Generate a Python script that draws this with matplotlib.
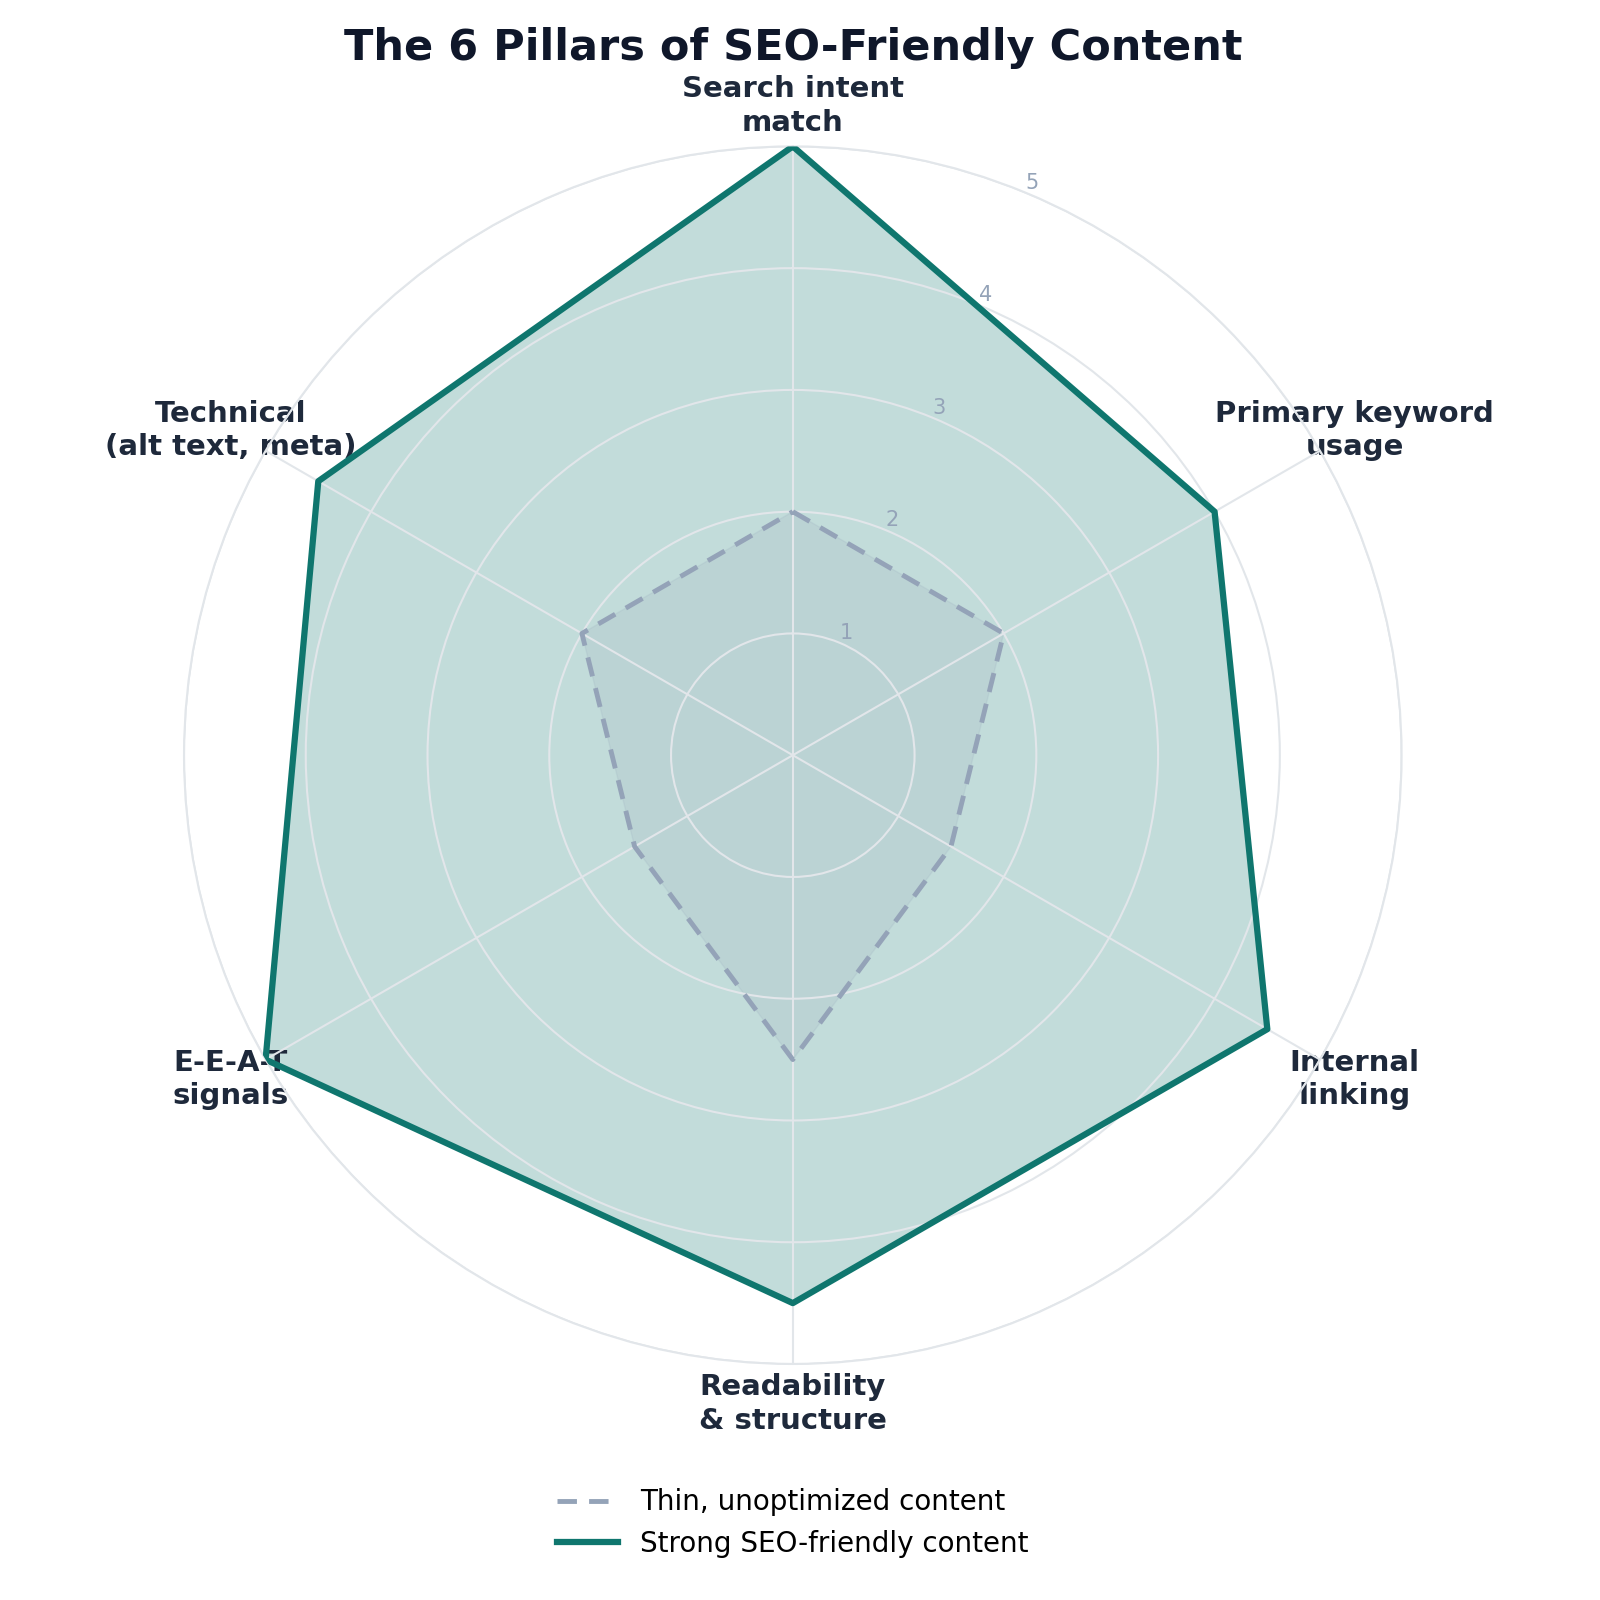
import numpy as np
import matplotlib
matplotlib.use("Agg")
import matplotlib.pyplot as plt

categories = ["Search intent\nmatch", "Primary keyword\nusage", "Internal\nlinking",
              "Readability\n& structure", "E-E-A-T\nsignals", "Technical\n(alt text, meta)"]
thin_values = [2, 2, 1.5, 2.5, 1.5, 2]
strong_values = [5, 4, 4.5, 4.5, 5, 4.5]
r_ticks = [1, 2, 3, 4, 5]
series_labels = ["Thin, unoptimized content", "Strong SEO-friendly content"]

thin_color = "#94a3b8"
strong_color = "#0f766e"
grid_color = "#e2e6ea"
text_color = "#1e293b"

fig = plt.figure(figsize=(16, 16), dpi=100)
ax = fig.add_axes([0.115, 0.1475, 0.761, 0.761], projection="polar")
ax.set_theta_offset(np.pi / 2)
ax.set_theta_direction(-1)

n = len(categories)
angles = np.linspace(0, 2 * np.pi, n, endpoint=False)
ang_closed = np.concatenate([angles, angles[:1]])

thin_closed = np.array(thin_values + thin_values[:1])
strong_closed = np.array(strong_values + strong_values[:1])

ax.fill(ang_closed, strong_closed, color=strong_color, alpha=0.25, zorder=1)
ax.fill(ang_closed, thin_closed, color=thin_color, alpha=0.15, zorder=1)
l1, = ax.plot(ang_closed, thin_closed, color=thin_color, lw=3.5, ls=(0, (4, 2.5)), zorder=3)
l2, = ax.plot(ang_closed, strong_closed, color=strong_color, lw=4.5, zorder=3)

ax.set_ylim(0, 5)
ax.set_yticks(r_ticks)
ax.set_yticklabels([str(t) for t in r_ticks], color="#94a3b8", fontsize=15)
ax.set_rlabel_position(22.5)
ax.set_xticks(angles)
ax.set_xticklabels([])
ax.grid(True, color=grid_color, lw=1.5)
ax.spines["polar"].set_color(grid_color)
ax.spines["polar"].set_linewidth(1.5)
ax.tick_params(axis="x", length=0)

for a, lab in zip(angles, categories):
    ax.text(a, 5.33, lab, ha="center", va="center", fontsize=21, fontweight="bold",
            color=text_color, zorder=1.2, clip_on=False, linespacing=1.25)

fig.text(0.4956, 0.970, "The 6 Pillars of SEO-Friendly Content", ha="center", va="center",
         fontsize=31, fontweight="bold", color="#0f172a")

fig.legend([l1, l2], series_labels, loc="center", bbox_to_anchor=(0.4956, 0.048),
           frameon=False, fontsize=20, handlelength=2.2, labelspacing=0.5)

fig.savefig("out.png", dpi=100, facecolor="white")
